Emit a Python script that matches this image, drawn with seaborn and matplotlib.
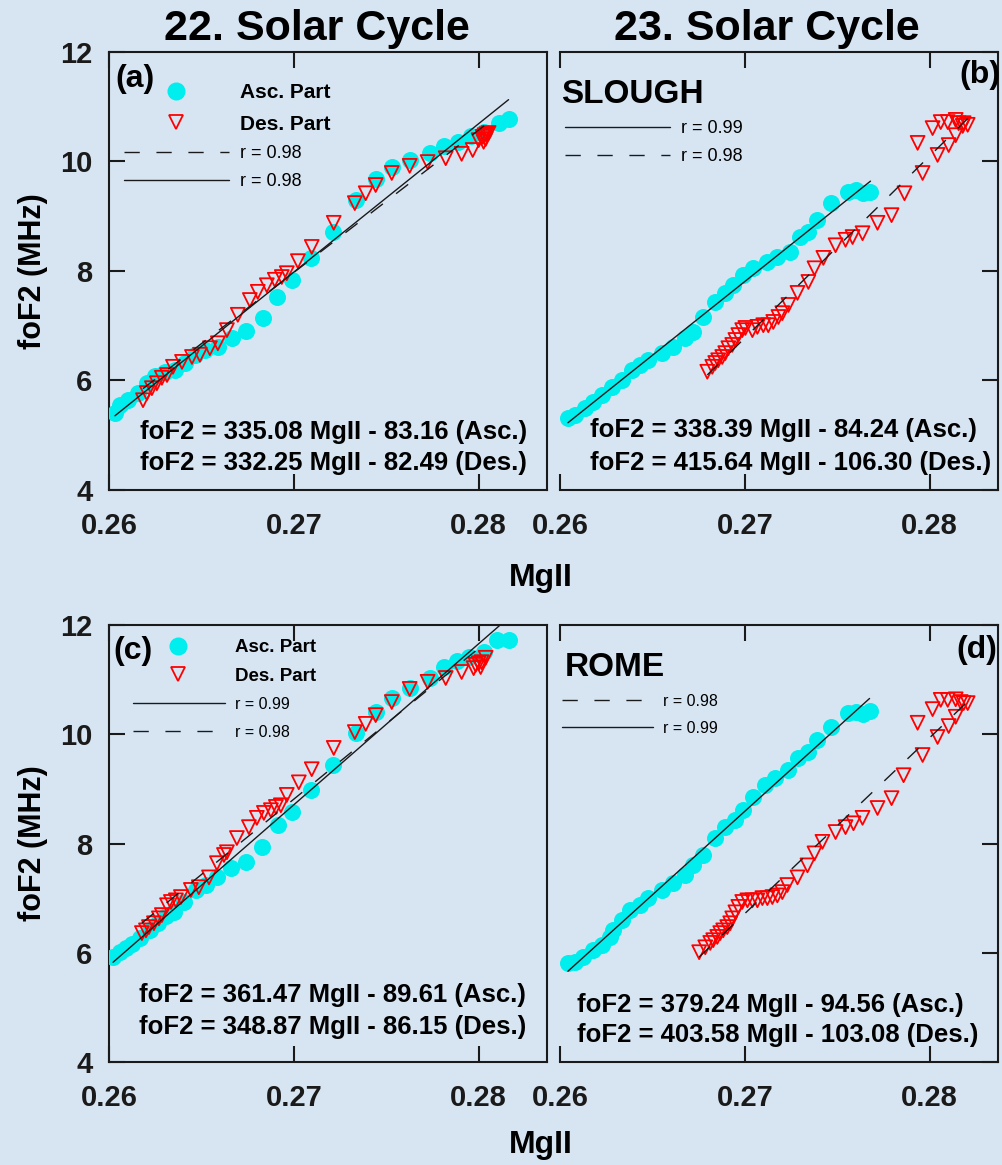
import matplotlib
matplotlib.use("Agg")
import matplotlib.pyplot as plt
from matplotlib.lines import Line2D
import seaborn as sns
import numpy as np

# values (MgII index vs foF2 in MHz)
# (a) 22nd cycle, Slough
a_asc_x = [0.26032, 0.26059, 0.26103, 0.26157, 0.26205, 0.26249, 0.26303, 0.26357, 0.26411, 0.26465,
           0.26519, 0.26589, 0.26665, 0.26741, 0.26832, 0.26908, 0.26989, 0.27092, 0.27211, 0.27335,
           0.27443, 0.27530, 0.27627, 0.27735, 0.27811, 0.27886, 0.27957, 0.28027, 0.28108, 0.28162]
a_asc_y = [5.41, 5.55, 5.64, 5.77, 5.95, 6.08, 6.16, 6.19, 6.32, 6.47,
           6.56, 6.61, 6.78, 6.90, 7.14, 7.53, 7.84, 8.24, 8.71, 9.30,
           9.68, 9.90, 10.03, 10.16, 10.28, 10.36, 10.47, 10.54, 10.70, 10.78]
a_des_x = [0.26184, 0.26205, 0.26232, 0.26259, 0.26286, 0.26314, 0.26346, 0.26395, 0.26449, 0.26492,
           0.26546, 0.26589, 0.26638, 0.26697, 0.26762, 0.26805, 0.26854, 0.26897, 0.26935, 0.26962,
           0.27022, 0.27097, 0.27216, 0.27330, 0.27389, 0.27443, 0.27530, 0.27627, 0.27724, 0.27822,
           0.27908, 0.27968, 0.28000, 0.28022, 0.28032, 0.28043, 0.28054, 0.28027, 0.28038]
a_des_y = [5.64, 5.77, 5.86, 5.95, 6.05, 6.10, 6.25, 6.34, 6.43, 6.47,
           6.59, 6.68, 6.92, 7.20, 7.47, 7.62, 7.74, 7.84, 7.89, 7.96,
           8.18, 8.44, 8.88, 9.24, 9.42, 9.57, 9.79, 9.92, 9.99, 10.06,
           10.14, 10.21, 10.39, 10.45, 10.48, 10.50, 10.52, 10.36, 10.41]

# (b) 23rd cycle, Slough
b_asc_x = [0.26043, 0.26081, 0.26136, 0.26179, 0.26228, 0.26282, 0.26336, 0.26390, 0.26434, 0.26477,
           0.26553, 0.26612, 0.26678, 0.26721, 0.26775, 0.26840, 0.26894, 0.26938, 0.26992, 0.27046,
           0.27122, 0.27176, 0.27247, 0.27301, 0.27344, 0.27393, 0.27469, 0.27556, 0.27599, 0.27637, 0.27680]
b_asc_y = [5.32, 5.37, 5.50, 5.61, 5.74, 5.88, 6.01, 6.19, 6.28, 6.37,
           6.50, 6.61, 6.78, 6.89, 7.16, 7.43, 7.60, 7.74, 7.93, 8.05,
           8.16, 8.26, 8.35, 8.62, 8.71, 8.93, 9.24, 9.44, 9.48, 9.42, 9.44]
b_des_x = [0.26797, 0.26824, 0.26840, 0.26856, 0.26878, 0.26894, 0.26911, 0.26932, 0.26949, 0.26965,
           0.26986, 0.27003, 0.27041, 0.27068, 0.27100, 0.27127, 0.27154, 0.27182, 0.27203, 0.27236,
           0.27285, 0.27344, 0.27377, 0.27425, 0.27491, 0.27545, 0.27583, 0.27637, 0.27718, 0.27794,
           0.27864, 0.27962, 0.28043, 0.28103, 0.28141, 0.27935, 0.28016, 0.28060, 0.28098, 0.28141,
           0.28157, 0.28179, 0.28206, 0.28184]
b_des_y = [6.16, 6.25, 6.32, 6.37, 6.43, 6.50, 6.59, 6.65, 6.74, 6.83,
           6.92, 6.96, 6.92, 6.98, 7.01, 7.01, 7.07, 7.16, 7.23, 7.38,
           7.60, 7.80, 8.05, 8.24, 8.47, 8.57, 8.62, 8.69, 8.88, 9.02,
           9.42, 9.79, 10.12, 10.30, 10.48, 10.34, 10.61, 10.72, 10.72, 10.76,
           10.70, 10.65, 10.67, 10.70]

# (c) 22nd cycle, Rome
c_asc_x = [0.26022, 0.26059, 0.26092, 0.26124, 0.26168, 0.26222, 0.26265, 0.26308, 0.26351, 0.26405,
           0.26470, 0.26524, 0.26584, 0.26659, 0.26741, 0.26827, 0.26914, 0.26989, 0.27092, 0.27211,
           0.27335, 0.27443, 0.27530, 0.27627, 0.27735, 0.27811, 0.27881, 0.27946, 0.28027, 0.28097, 0.28162]
c_asc_y = [5.92, 6.01, 6.08, 6.16, 6.27, 6.41, 6.54, 6.67, 6.74, 6.93,
           7.15, 7.24, 7.38, 7.55, 7.66, 7.93, 8.34, 8.58, 8.98, 9.44,
           10.02, 10.41, 10.66, 10.85, 11.03, 11.23, 11.34, 11.41, 11.51, 11.73, 11.73]
c_des_x = [0.26178, 0.26200, 0.26216, 0.26243, 0.26270, 0.26286, 0.26314, 0.26335, 0.26362, 0.26389,
           0.26443, 0.26486, 0.26541, 0.26584, 0.26622, 0.26638, 0.26692, 0.26757, 0.26800, 0.26838,
           0.26876, 0.26903, 0.26930, 0.26962, 0.27027, 0.27097, 0.27216, 0.27330, 0.27389, 0.27443,
           0.27530, 0.27627, 0.27724, 0.27822, 0.27908, 0.27973, 0.28000, 0.28016, 0.28038, 0.27984, 0.28011]
c_des_y = [6.36, 6.41, 6.47, 6.54, 6.63, 6.69, 6.87, 6.93, 6.96, 7.02,
           7.15, 7.20, 7.38, 7.64, 7.79, 7.84, 8.10, 8.30, 8.47, 8.56,
           8.61, 8.67, 8.70, 8.89, 9.12, 9.36, 9.75, 10.04, 10.19, 10.35,
           10.59, 10.83, 10.96, 11.03, 11.14, 11.21, 11.30, 11.32, 11.40, 11.27, 11.23]

# (d) 23rd cycle, Rome
d_asc_x = [0.26043, 0.26081, 0.26125, 0.26179, 0.26228, 0.26271, 0.26287, 0.26336, 0.26379, 0.26434,
           0.26477, 0.26553, 0.26612, 0.26678, 0.26721, 0.26775, 0.26840, 0.26894, 0.26949, 0.26992,
           0.27046, 0.27111, 0.27165, 0.27236, 0.27290, 0.27344, 0.27393, 0.27469, 0.27556, 0.27599,
           0.27637, 0.27675]
d_asc_y = [5.81, 5.83, 5.92, 6.05, 6.14, 6.29, 6.41, 6.60, 6.78, 6.87,
           7.00, 7.15, 7.27, 7.42, 7.60, 7.79, 8.10, 8.30, 8.43, 8.61,
           8.85, 9.07, 9.20, 9.34, 9.56, 9.67, 9.89, 10.13, 10.39, 10.41,
           10.37, 10.42]
d_des_x = [0.26753, 0.26786, 0.26813, 0.26829, 0.26851, 0.26867, 0.26883, 0.26905, 0.26921, 0.26932,
           0.26949, 0.26965, 0.26986, 0.27014, 0.27041, 0.27068, 0.27095, 0.27122, 0.27149, 0.27176,
           0.27203, 0.27230, 0.27285, 0.27339, 0.27377, 0.27420, 0.27491, 0.27545, 0.27588, 0.27637,
           0.27718, 0.27794, 0.27859, 0.27962, 0.28043, 0.28103, 0.28141, 0.27935, 0.28016, 0.28060,
           0.28098, 0.28141, 0.28168, 0.28184, 0.28206]
d_des_y = [6.01, 6.10, 6.18, 6.23, 6.29, 6.36, 6.41, 6.47, 6.54, 6.63,
           6.74, 6.84, 6.93, 6.96, 6.96, 6.96, 7.00, 7.00, 7.02, 7.05,
           7.11, 7.24, 7.38, 7.60, 7.82, 8.03, 8.21, 8.30, 8.37, 8.47,
           8.65, 8.83, 9.25, 9.62, 9.95, 10.15, 10.32, 10.21, 10.46, 10.63,
           10.63, 10.64, 10.59, 10.57, 10.57]

x_ticks = [0.26, 0.27, 0.28]
x_ticklabels = ["0.26", "0.27", "0.28"]
y_ticks = [4, 6, 8, 10, 12]
cycle_titles = ["22. Solar Cycle", "23. Solar Cycle"]
stations = [None, "SLOUGH", None, "ROME"]
tags = ["(a)", "(b)", "(c)", "(d)"]
equations = [
    ["foF2 = 335.08 MgII - 83.16 (Asc.)", "foF2 = 332.25 MgII - 82.49 (Des.)"],
    ["foF2 = 338.39 MgII - 84.24 (Asc.)", "foF2 = 415.64 MgII - 106.30 (Des.)"],
    ["foF2 = 361.47 MgII - 89.61 (Asc.)", "foF2 = 348.87 MgII - 86.15 (Des.)"],
    ["foF2 = 379.24 MgII - 94.56 (Asc.)", "foF2 = 403.58 MgII - 103.08 (Des.)"],
]
r_labels = [["r = 0.98", "r = 0.98"], ["r = 0.99", "r = 0.98"],
            ["r = 0.99", "r = 0.98"], ["r = 0.98", "r = 0.99"]]

BG = "#d7e5f3"
CYAN = "#00eeee"
RED = "#ff0000"
DASH = (0, (11, 12))

sns.set_theme(style="ticks")
plt.rcParams["font.family"] = ["Liberation Sans", "DejaVu Sans"]
plt.rcParams["font.weight"] = "bold"
plt.rcParams["axes.linewidth"] = 1.5
for key in ["text.color", "axes.labelcolor", "xtick.color", "ytick.color", "axes.edgecolor"]:
    plt.rcParams[key] = "black"

fig = plt.figure(figsize=(10.03, 11.65), dpi=100, facecolor=BG)

h_asc = Line2D([], [], ls="none", marker="o", ms=12, mfc=CYAN, mec=CYAN)
h_des = Line2D([], [], ls="none", marker="v", ms=10, mfc="none", mec=RED, mew=1.3)
h_sol = Line2D([], [], color="k", lw=1.0)
h_das = Line2D([], [], color="k", lw=1.0, ls=DASH)


def draw_panel(rect, asc_x, asc_y, des_x, des_y, right_side):
    ax = fig.add_axes(rect, facecolor=BG)
    sns.scatterplot(x=asc_x, y=asc_y, ax=ax, color=CYAN, s=150, linewidth=0, zorder=3)
    sns.scatterplot(x=des_x, y=des_y, ax=ax, marker="v", color="none", edgecolor=RED,
                    s=100, linewidth=1.3, zorder=4)
    sns.regplot(x=np.array(asc_x), y=np.array(asc_y), ax=ax, scatter=False, ci=None, color="k",
                line_kws=dict(lw=1.0, zorder=5))
    sns.regplot(x=np.array(des_x), y=np.array(des_y), ax=ax, scatter=False, ci=None, color="k",
                line_kws=dict(lw=1.0, ls=DASH, zorder=5))

    ax.set_xlim(0.26, 0.2837)
    ax.set_ylim(4, 12)
    ax.set_xticks(x_ticks)
    ax.set_xticklabels(x_ticklabels)
    ax.set_yticks(y_ticks)
    ax.set_xlabel("")
    ax.set_ylabel("")
    for s in ax.spines.values():
        s.set_visible(True)
        s.set_linewidth(1.5)
        s.set_color("k")
    ax.tick_params(axis="x", direction="in", length=11.5, width=1.5, top=True,
                   labelsize=21, pad=16, colors="k")
    if right_side:
        ax.spines["left"].set_visible(False)
        ax.tick_params(axis="y", direction="in", length=11.5, width=1.5, colors="k",
                       left=False, right=True, labelleft=False, labelright=False)
    else:
        ax.tick_params(axis="y", direction="in", length=11.5, width=1.5,
                       left=True, right=False, labelsize=21, pad=12, colors="k")
    return ax


rects = [
    [0.10867, 0.57940, 0.43669, 0.37597],
    [0.55833, 0.57940, 0.43669, 0.37597],
    [0.10867, 0.08841, 0.43669, 0.37511],
    [0.55833, 0.08841, 0.43669, 0.37511],
]
series = [
    (a_asc_x, a_asc_y, a_des_x, a_des_y),
    (b_asc_x, b_asc_y, b_des_x, b_des_y),
    (c_asc_x, c_asc_y, c_des_x, c_des_y),
    (d_asc_x, d_asc_y, d_des_x, d_des_y),
]
axes = []
for i in range(4):
    axes.append(draw_panel(rects[i], *series[i], right_side=(i % 2 == 1)))

ax_a, ax_b, ax_c, ax_d = axes

# panel tags
ax_a.text(0.014, 0.938, tags[0], transform=ax_a.transAxes, fontsize=23, va="center", ha="left")
ax_b.text(1.005, 0.947, tags[1], transform=ax_b.transAxes, fontsize=23, va="center", ha="right")
ax_c.text(0.009, 0.94, tags[2], transform=ax_c.transAxes, fontsize=23, va="center", ha="left")
ax_d.text(0.998, 0.943, tags[3], transform=ax_d.transAxes, fontsize=23, va="center", ha="right")

# station names
ax_b.text(0.002, 0.902, stations[1], transform=ax_b.transAxes, fontsize=24, va="center", ha="left")
ax_d.text(0.011, 0.902, stations[3], transform=ax_d.transAxes, fontsize=24, va="center", ha="left")

# marker legends
leg = ax_a.legend([h_asc, h_des], ["Asc. Part", "Des. Part"], loc="upper left",
                  bbox_to_anchor=(0.129, 0.929), frameon=False, borderpad=0, borderaxespad=0,
                  handlelength=1.0, handletextpad=2.58, labelspacing=0.6,
                  prop=dict(weight="bold", size=15))
ax_a.add_artist(leg)
leg = ax_c.legend([h_asc, h_des], ["Asc. Part", "Des. Part"], loc="upper left",
                  bbox_to_anchor=(0.136, 0.968), frameon=False, borderpad=0, borderaxespad=0,
                  handlelength=1.0, handletextpad=2.54, labelspacing=0.62,
                  prop=dict(weight="bold", size=13.5))
ax_c.add_artist(leg)

# line legends
line_prop = dict(family=["Liberation Sans Narrow", "Liberation Sans"], weight="normal")
ax_a.legend([h_das, h_sol], r_labels[0], loc="upper left", bbox_to_anchor=(0.034, 0.788),
            frameon=False, borderpad=0, borderaxespad=0, handlelength=5.83, handletextpad=0.6,
            labelspacing=0.61, prop=dict(line_prop, size=13))
ax_b.legend([h_sol, h_das], r_labels[1], loc="upper left", bbox_to_anchor=(0.011, 0.844),
            frameon=False, borderpad=0, borderaxespad=0, handlelength=5.83, handletextpad=0.6,
            labelspacing=0.61, prop=dict(line_prop, size=13))
ax_c.legend([h_sol, h_das], r_labels[2], loc="upper left", bbox_to_anchor=(0.055, 0.836),
            frameon=False, borderpad=0, borderaxespad=0, handlelength=5.75, handletextpad=0.62,
            labelspacing=0.81, prop=dict(line_prop, size=11.5))
ax_d.legend([h_das, h_sol], r_labels[3], loc="upper left", bbox_to_anchor=(0.005, 0.843),
            frameon=False, borderpad=0, borderaxespad=0, handlelength=5.7, handletextpad=0.62,
            labelspacing=0.75, prop=dict(line_prop, size=11.5))

# regression equations
eq_pos = [(0.071, 0.132, 0.062), (0.068, 0.137, 0.062), (0.068, 0.153, 0.080), (0.039, 0.130, 0.062)]
for ax, eqs, (ex, ey1, ey2) in zip(axes, equations, eq_pos):
    ax.text(ex, ey1, eqs[0], transform=ax.transAxes, fontsize=18.5, va="center", ha="left")
    ax.text(ex, ey2, eqs[1], transform=ax.transAxes, fontsize=18.5, va="center", ha="left")

# column titles and axis labels
fig.text(0.316, 0.975, cycle_titles[0], fontsize=31, ha="center", va="center")
fig.text(0.765, 0.975, cycle_titles[1], fontsize=31, ha="center", va="center")
fig.text(0.033, 0.767, "foF2 (MHz)", fontsize=22, rotation=90, ha="center", va="center")
fig.text(0.033, 0.276, "foF2 (MHz)", fontsize=22, rotation=90, ha="center", va="center")
fig.text(0.539, 0.504, "MgII", fontsize=23, ha="center", va="center")
fig.text(0.539, 0.017, "MgII", fontsize=23, ha="center", va="center")

fig.savefig("out.png", dpi=100, facecolor=BG)
